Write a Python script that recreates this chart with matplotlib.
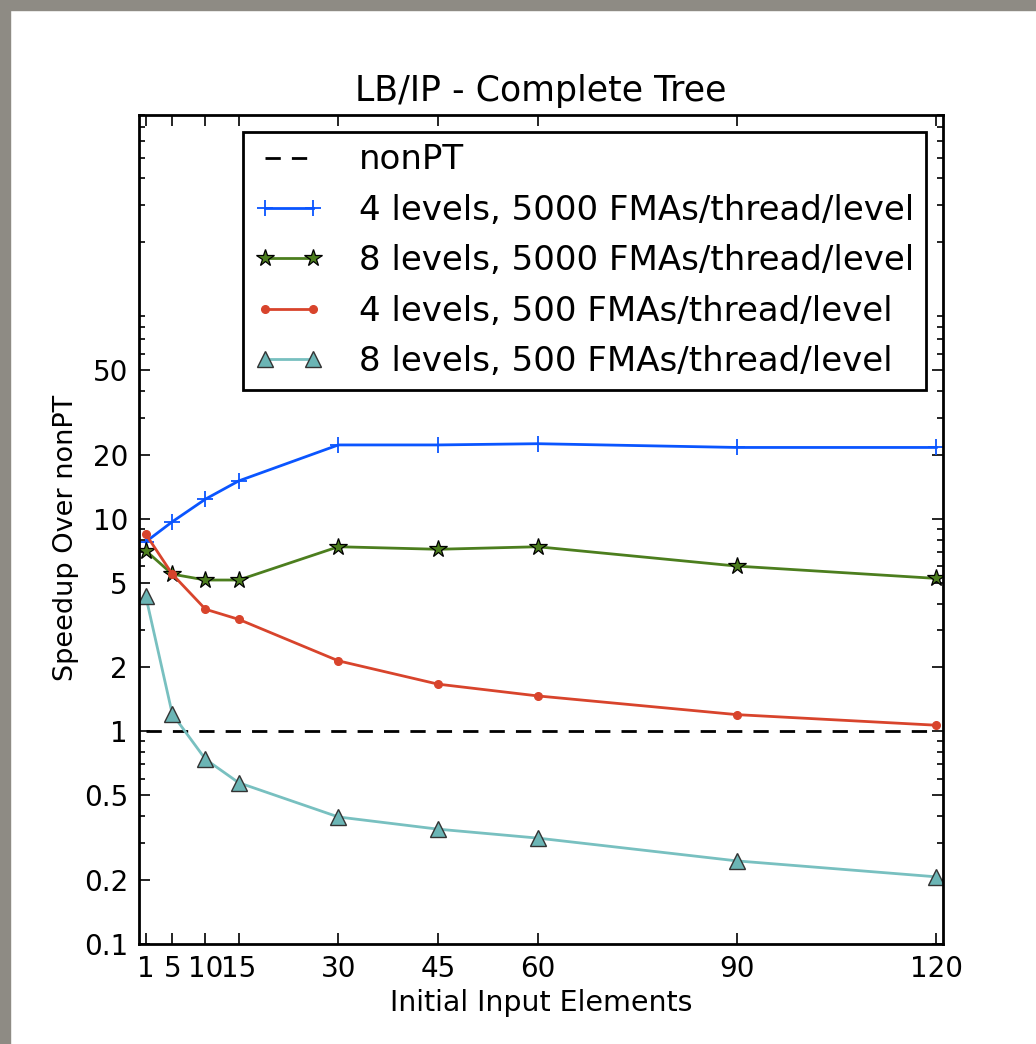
import matplotlib
matplotlib.use("Agg")
import matplotlib.pyplot as plt
from matplotlib.patches import Rectangle

# input sizes
elements = [1, 5, 10, 15, 30, 45, 60, 90, 120]

# speedups
lv4_5000 = [7.8, 9.7, 12.4, 15.1, 22.3, 22.3, 22.6, 21.7, 21.7]
lv8_5000 = [7.1, 5.5, 5.16, 5.16, 7.4, 7.2, 7.4, 6.0, 5.25]
lv4_500 = [8.5, 5.5, 3.76, 3.37, 2.15, 1.67, 1.47, 1.2, 1.07]
lv8_500 = [4.35, 1.21, 0.74, 0.574, 0.396, 0.347, 0.315, 0.246, 0.207]
nonpt = [1.0] * len(elements)

yticks = [0.1, 0.2, 0.5, 1, 2, 5, 10, 20, 50]
yticklabels = ["0.1", "0.2", "0.5", "1", "2", "5", "10", "20", "50"]

plt.rcParams["font.family"] = "DejaVu Sans"
plt.rcParams["lines.scale_dashes"] = False

fig = plt.figure(figsize=(10.36, 10.44), dpi=100)
# grey window frame on top and left of the screenshot
fig.patches.append(Rectangle((0, 1 - 10 / 1044), 1, 10 / 1044, transform=fig.transFigure,
                             color="#8e8b84", zorder=0))
fig.patches.append(Rectangle((0, 0), 10 / 1036, 1, transform=fig.transFigure,
                             color="#8e8b84", zorder=0))

ax = fig.add_axes([0.1342, 0.0958, 0.9102 - 0.1342, 0.8903 - 0.0958])

ax.plot(elements, nonpt, color="black", linestyle="--", dashes=(11, 8), lw=2, label="nonPT")
ax.plot(elements, lv4_5000, color="#0a55ff", lw=2, marker="+", ms=11, mew=1.3,
        label="4 levels, 5000 FMAs/thread/level")
ax.plot(elements, lv8_5000, color="#4c7e1e", lw=2, marker="*", ms=13, mfc="#4c7e1e",
        mec="black", mew=0.9, label="8 levels, 5000 FMAs/thread/level")
ax.plot(elements, lv4_500, color="#d8442c", lw=2, marker="o", ms=5.5, mec="#d8442c",
        label="4 levels, 500 FMAs/thread/level")
ax.plot(elements, lv8_500, color="#78c0c0", lw=2, marker="^", ms=11, mfc="#6bb5b5",
        mec="#333333", mew=1.0, label="8 levels, 500 FMAs/thread/level")

ax.set_yscale("log")
ax.set_ylim(0.1, 800)
ax.set_xlim(0, 121)
ax.set_yticks(yticks)
ax.set_yticklabels(yticklabels)
ax.set_xticks(elements)
ax.set_xticklabels([str(e) for e in elements])

ax.tick_params(which="both", direction="in", top=True, right=True, labelsize=20, width=1.2)
ax.tick_params(which="major", length=8, pad=8)
ax.tick_params(which="minor", length=4)
for s in ax.spines.values():
    s.set_linewidth(2)

ax.set_title("LB/IP - Complete Tree", fontsize=25, pad=10)
ax.set_xlabel("Initial Input Elements", fontsize=20.5)
ax.set_ylabel("Speedup Over nonPT", fontsize=19.5)
ax.yaxis.set_label_coords(-0.075, 0.49)

leg = ax.legend(loc="upper right", fontsize=24.5, numpoints=2, handlelength=2.0,
                handletextpad=1.05, labelspacing=0.51, borderpad=0.35, fancybox=False,
                borderaxespad=0.5, framealpha=1)
leg.get_frame().set_edgecolor("black")
leg.get_frame().set_linewidth(2)

fig.savefig("out.png", dpi=100, facecolor="white")
